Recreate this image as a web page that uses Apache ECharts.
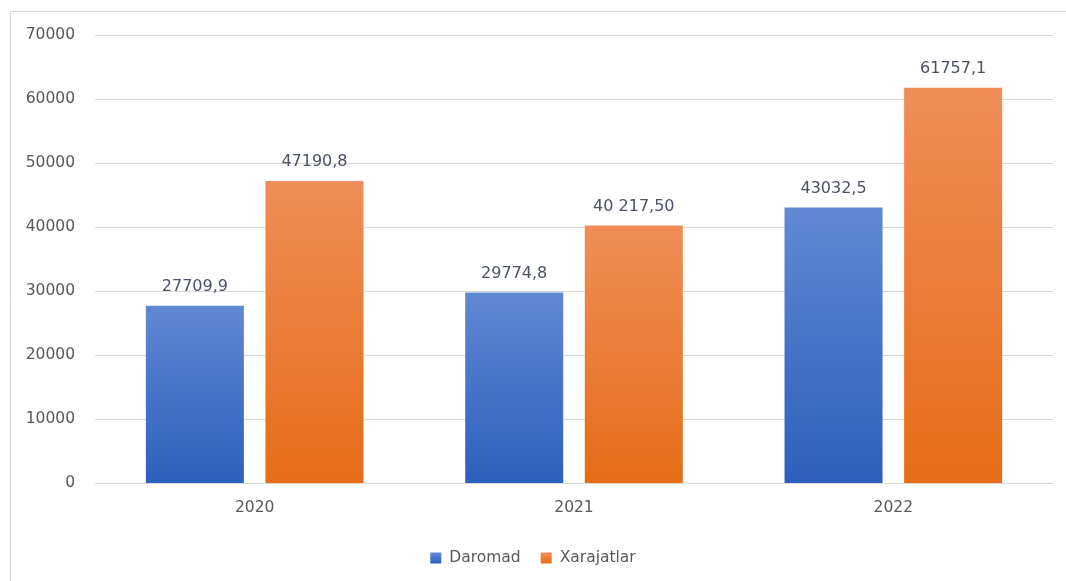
<!DOCTYPE html>
<html><head><meta charset="utf-8">
<script src="https://cdn.jsdelivr.net/npm/echarts@6/dist/echarts.min.js"></script>
<style>html,body{margin:0;padding:0;background:#fff}#c{width:1066px;height:581px}</style>
</head><body><div id="c"></div>
<script>
const categories = ['2020', '2021', '2022'];
const daromad = [27709.9, 29774.8, 43032.5];
const xarajatlar = [47190.8, 40217.5, 61757.1];
const daromadLabels = ['27709,9', '29774,8', '43032,5'];
const xarajatlarLabels = ['47190,8', '40 217,50', '61757,1'];
const yTicks = [0, 10000, 20000, 30000, 40000, 50000, 60000, 70000];

const chart = echarts.init(document.getElementById('c'));
const grad = (top, bot) => new echarts.graphic.LinearGradient(0, 0, 0, 1, [{offset: 0, color: top}, {offset: 1, color: bot}]);
const font = '"DejaVu Sans", sans-serif';
chart.setOption({
  animation: false,
  graphic: [
    {type: 'line', shape: {x1: 10.5, y1: 11.5, x2: 1066, y2: 11.5}, style: {stroke: '#d9d9d9', lineWidth: 1}, silent: true},
    {type: 'line', shape: {x1: 10.5, y1: 11.5, x2: 10.5, y2: 581}, style: {stroke: '#d9d9d9', lineWidth: 1}, silent: true}
  ],
  grid: {left: 95, right: 13, top: 35, bottom: 98, containLabel: false},
  legend: {
    top: 545, left: 'center', itemWidth: 11, itemHeight: 11, itemGap: 20, icon: 'rect',
    textStyle: {color: '#595959', fontSize: 15.5, fontFamily: font, padding: [0, 0, 0, 3]},
    data: ['Daromad', 'Xarajatlar']
  },
  xAxis: {
    type: 'category', data: categories,
    axisLine: {lineStyle: {color: '#d9d9d9'}}, axisTick: {show: false},
    axisLabel: {color: '#595959', fontSize: 15.5, margin: 17, fontFamily: font}
  },
  yAxis: {
    type: 'value', min: yTicks[0], max: yTicks[yTicks.length - 1], interval: 10000,
    axisLine: {show: false}, axisTick: {show: false},
    splitLine: {lineStyle: {color: '#d9d9d9'}},
    axisLabel: {color: '#595959', fontSize: 15.5, margin: 20, fontFamily: font, formatter: v => String(v)}
  },
  series: [
    {name: 'Daromad', type: 'bar', data: daromad, barWidth: '30.7%', barGap: '22%',
     itemStyle: {color: grad('#6189d2', '#2d5fbd')},
     label: {show: true, position: 'top', distance: 11, color: '#4a5263', fontSize: 16, fontFamily: font,
       formatter: p => daromadLabels[p.dataIndex]}},
    {name: 'Xarajatlar', type: 'bar', data: xarajatlar, barWidth: '30.7%', barGap: '22%',
     itemStyle: {color: grad('#f08d58', '#e66c17')},
     label: {show: true, position: 'top', distance: 11, color: '#4a5263', fontSize: 16, fontFamily: font,
       formatter: p => xarajatlarLabels[p.dataIndex]}}
  ]
});
</script></body></html>
